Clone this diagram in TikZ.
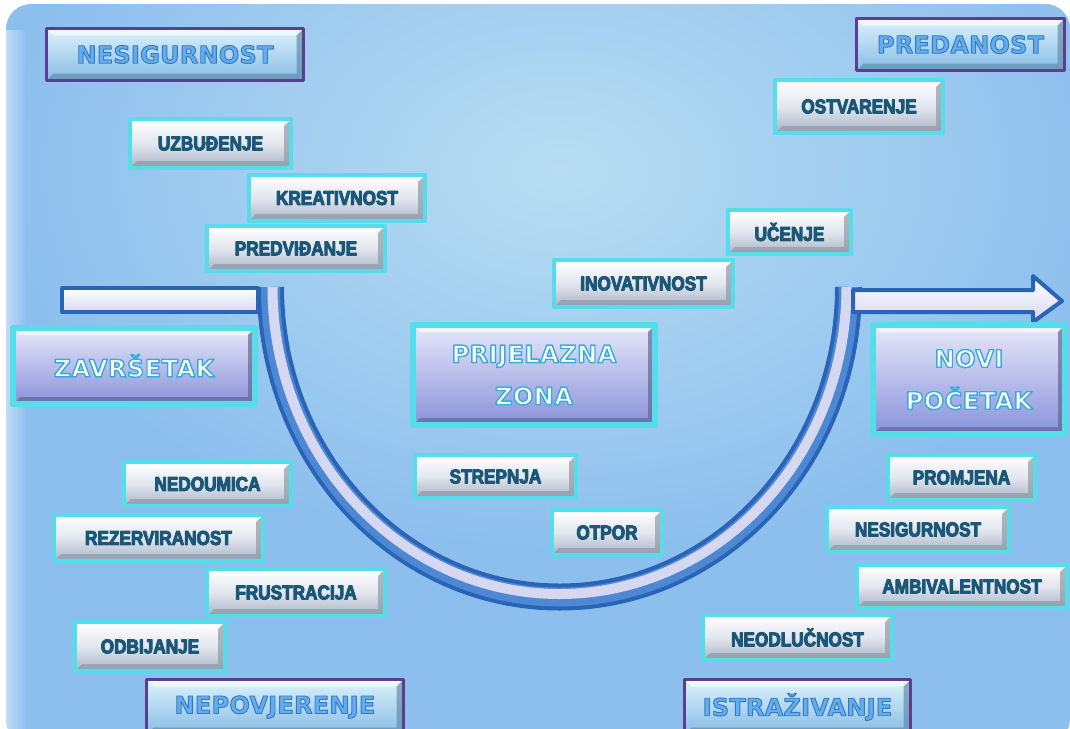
\documentclass[tikz,border=0pt]{standalone}
\usepackage{fontspec}
\setmainfont{Liberation Sans}
\newfontfamily\lblfont{Liberation Sans Bold}[FakeStretch=0.86,FakeBold=5]
\newfontfamily\zonefont{DejaVu Sans Bold}[LetterSpace=2,FakeBold=6]
\newfontfamily\headfont{DejaVu Sans Bold}[LetterSpace=1,FakeBold=4]

\definecolor{bgdark}{HTML}{8DBFEE}
\definecolor{bglight}{HTML}{B8DDF2}
\definecolor{boxcyan}{HTML}{56DDEA}
\definecolor{boxtxt}{HTML}{1B5878}
\definecolor{facemid}{HTML}{E2E6EE}
\definecolor{facelo}{HTML}{A9B4C6}
\definecolor{zonetop}{HTML}{E6E8FA}
\definecolor{zonebot}{HTML}{8A92DA}
\definecolor{headline}{HTML}{5B3F8E}
\definecolor{headtop}{HTML}{DDF2FB}
\definecolor{headbot}{HTML}{86BCE6}
\definecolor{arrowblue}{HTML}{2A64B6}
\definecolor{arrowmid}{HTML}{4C88D4}
\definecolor{arrowlight}{HTML}{D6D8F2}

% outlined text: fill colour and stroke colour as rgb
\newcommand\outtxt[3]{\special{pdf:bcolor [#1] [#2]}#3\special{pdf:ecolor}}
\newcommand\zonetxt[1]{\outtxt{1 1 1}{0.22 0.68 0.86}{#1}}
\newcommand\headtxt[1]{\outtxt{0.38 0.68 0.93}{0.22 0.48 0.76}{#1}}

\tikzset{
 bevel/.style={path picture={
  \path (path picture bounding box.north west) coordinate (pNW)
   (path picture bounding box.south east) coordinate (pSE)
   (pNW -| pSE) coordinate (pNE) (pNW |- pSE) coordinate (pSW);
  \fill[white,opacity=.6] (pNW) -- (pNE) -- ([shift={(-7pt,-7pt)}]pNE)
   -- ([shift={(7pt,-7pt)}]pNW) -- cycle;
  \fill[#1] (pNE) -- (pSE) -- ([shift={(-7pt,7pt)}]pSE) -- ([shift={(-7pt,-7pt)}]pNE) -- cycle;
  \fill[#1] (pSE) -- (pSW) -- ([shift={(7pt,7pt)}]pSW) -- ([shift={(-7pt,7pt)}]pSE) -- cycle;}},
 smallbox/.style={draw=boxcyan,line width=4pt,top color=white,bottom color=facelo,
  middle color=facemid,bevel={facelo!85!black,opacity=.7},inner sep=0pt,text=boxtxt,
  font=\lblfont\fontsize{20}{22}\selectfont},
 zonebox/.style={draw=boxcyan,line width=6pt,top color=zonetop,bottom color=zonebot,
  bevel={zonebot!70!black,opacity=.7},inner sep=0pt,align=center,
  font=\zonefont\fontsize{24}{42}\selectfont},
 headbox/.style={draw=headline,line width=3pt,top color=headtop,bottom color=headbot,
  bevel={headbot!75!black,opacity=.7},inner sep=0pt,
  font=\headfont\fontsize{24}{27}\selectfont},
 band/.style={line width=#1,line cap=butt}
}

\begin{document}
\begin{tikzpicture}[x=1pt,y=-1pt,line join=round]
 \clip (0,0) rectangle (1070,728);
 \fill[white] (0,0) rectangle (1070,728);
 \fill[bgdark,rounded corners=25] (6,4) rectangle (1070,744);
 \begin{scope}
  \clip[rounded corners=25] (6,4) rectangle (1070,744);
  \shade[inner color=bglight,outer color=bgdark] (560,170) ellipse [x radius=560,y radius=380];
  \shade[left color=white!45!bgdark,right color=bgdark] (6,30) rectangle (26,744);
 \end{scope}

 \coordinate (uL) at (270.5,287);
 \coordinate (uR) at (848,287);
 \coordinate (barL) at (62,288);
 \coordinate (barR) at (258,312);
 \coordinate (arrS) at (853,301);

 \draw[band=27pt,arrowblue] (uL) arc[start angle=180,end angle=0,x radius=289,y radius=310];
 \draw[band=19pt,arrowmid] (uL) arc[start angle=180,end angle=0,x radius=289,y radius=310];
 \draw[band=10pt,arrowlight] ([xshift=2pt]uL) arc[start angle=180,end angle=0,x radius=287,y radius=307];
 \draw[arrowblue,line width=4pt,top color=white,bottom color=arrowlight] (barL) rectangle (barR);
 \draw[arrowblue,line width=4pt,top color=white,bottom color=arrowlight] (arrS)
  ++(0,-11) -- ++(180,0) -- ++(0,-14) -- ++(29,25) -- ++(-29,21) -- ++(0,-10) -- ++(-180,0) -- cycle;

 \node[headbox,minimum width=257pt,minimum height=52pt] (nesig) at (175,54.5) {\headtxt{NESIGURNOST}};
 \node[headbox,minimum width=208pt,minimum height=52pt] (predan) at (960.5,44.5) {\headtxt{PREDANOST}};
 \node[headbox,minimum width=257pt,minimum height=55pt] (nepov) at (275,707) {\headtxt{NEPOVJERENJE}};
 \node[headbox,minimum width=226pt,minimum height=55pt] (istraz) at (797.5,707) {\headtxt{ISTRAŽIVANJE}};

 \foreach \n/\x/\y/\w/\h/\t in {
  uzb/210.5/143.5/161/49/UZBUĐENJE, kreat/337/198/176/46/KREATIVNOST,
  predv/296/248.5/178/45/PREDVIĐANJE, nedoum/207.5/484/167/44/NEDOUMICA,
  rezerv/158.5/538/209/46/REZERVIRANOST, frustr/296/592.5/178/47/FRUSTRACIJA,
  odbij/150/646.5/150/49/ODBIJANJE, ostvar/859/106.5/168/53/OSTVARENJE,
  ucenje/789.5/232/123/44/UČENJE, inovat/643.5/283.5/179/47/INOVATIVNOST,
  strep/495.5/476.5/161/43/STREPNJA, otpor/607/532.5/110/45/OTPOR,
  promj/961.5/477.5/147/45/PROMJENA, nesigR/918/529.5/182/45/NESIGURNOST,
  ambiv/962/586.5/210/43/AMBIVALENTNOST, neodl/797.5/637.5/189/45/NEODLUČNOST}
  \node[smallbox,minimum width=\w pt,minimum height=\h pt] (\n) at (\x,\y) {\t};

 \node[zonebox,minimum width=242pt,minimum height=76pt] (zavrs) at (134,366) {\zonetxt{ZAVRŠETAK}};
 \node[zonebox,minimum width=242pt,minimum height=100pt] (prijel) at (534,375)
  {\zonetxt{PRIJELAZNA}\\\zonetxt{ZONA}};
 \node[zonebox,minimum width=192pt,minimum height=109pt] (novi) at (969,379.5)
  {\zonetxt{NOVI}\\\zonetxt{POČETAK}};
\end{tikzpicture}
\end{document}
